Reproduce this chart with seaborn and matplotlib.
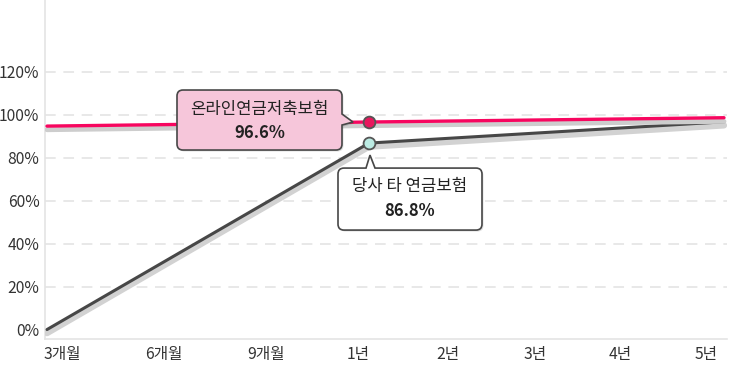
import numpy as np
import pandas as pd
import seaborn as sns
import matplotlib.pyplot as plt
import matplotlib.patheffects as pe
from matplotlib.path import Path
from matplotlib.patches import PathPatch
from matplotlib.transforms import IdentityTransform, Affine2D

# data
periods = ["3개월", "6개월", "9개월", "1년", "2년", "3년", "4년", "5년"]
point_periods = ["3개월", "1년", "5년"]
online_rate = [94.7, 96.6, 98.6]      # 온라인연금저축보험
other_rate = [0.0, 86.8, 96.7]        # 당사 타 연금보험
y_ticks = [0, 20, 40, 60, 80, 100, 120]

# layout (pixel positions along the x axis)
tick_px = [62, 164, 266, 358, 448, 535, 620, 706]
point_px = [47, 369, 724]

sns.set_theme(style="white")
plt.rcParams["font.family"] = ["Noto Sans CJK KR", "DejaVu Sans"]

W, H = 741, 371
fig = plt.figure(figsize=(W / 100, H / 100), dpi=100)
ax = fig.add_axes([45 / W, 32 / H, 682 / W, 339 / H])
ax.set_xlim(45, 727)
ax.set_ylim(-4.4, 153.4)

df = pd.DataFrame({"x": point_px, "online": online_rate, "other": other_rate})

for y in y_ticks[1:]:
    ax.axhline(y, color="#e2e2e2", lw=1.1, ls=(0, (7, 5)), zorder=0)

sns.lineplot(data=df, x="x", y="other", ax=ax, color="#474747", lw=2.2, zorder=3,
             path_effects=[pe.SimpleLineShadow(offset=(0, -2.6), shadow_color="#d2d2d2",
                                               alpha=1, linewidth=4.5), pe.Normal()])
sns.lineplot(data=df, x="x", y="online", ax=ax, color="#f7065f", lw=2.4, zorder=4,
             path_effects=[pe.SimpleLineShadow(offset=(0, -2.6), shadow_color="#cdcdcd",
                                               alpha=1, linewidth=3.5), pe.Normal()])

i1 = point_periods.index("1년")
ax.plot(point_px[i1], other_rate[i1], "o", ms=8.5, mfc="#bcebe3", mec="#555555", mew=1.3, zorder=6)
ax.plot(point_px[i1], online_rate[i1], "o", ms=8.5, mfc="#e8175d", mec="#555555", mew=1.3, zorder=6)

ax.set_xlabel("")
ax.set_ylabel("")
ax.set_xticks(tick_px)
ax.set_xticklabels(periods)
ax.set_yticks(y_ticks)
ax.set_yticklabels([f"{v}%" for v in y_ticks])
ax.tick_params(axis="both", length=0, labelsize=11.3, colors="#333333")
ax.tick_params(axis="x", pad=5)
ax.tick_params(axis="y", pad=4)
for s in ["top", "right"]:
    ax.spines[s].set_visible(False)
for s in ["left", "bottom"]:
    ax.spines[s].set_color("#e4e4e4")
    ax.spines[s].set_linewidth(1.2)
ax.grid(False)


def callout(mx, my, L, B, R, T, ptr, side, fc, r=6):
    L, B, R, T = mx + L, my + B, mx + R, my + T
    pts = [(px + mx, py + my) for px, py in ptr]
    verts = [(L + r, B), (R - r, B), (R, B), (R, B + r)]
    codes = [Path.MOVETO, Path.LINETO, Path.CURVE3, Path.CURVE3]
    if side == "right":
        verts += pts
        codes += [Path.LINETO] * len(pts)
    verts += [(R, T - r), (R, T), (R - r, T)]
    codes += [Path.LINETO, Path.CURVE3, Path.CURVE3]
    if side == "top":
        verts += pts
        codes += [Path.LINETO] * len(pts)
    verts += [(L + r, T), (L, T), (L, T - r), (L, B + r), (L, B), (L + r, B), (L + r, B)]
    codes += [Path.LINETO, Path.CURVE3, Path.CURVE3, Path.LINETO, Path.CURVE3, Path.CURVE3,
              Path.CLOSEPOLY]
    path = Path(verts, codes)
    sh = PathPatch(path.transformed(Affine2D().translate(1.5, -1.5)),
                   transform=IdentityTransform(), fc="#000000", ec="none", alpha=0.12, zorder=8)
    fig.add_artist(sh)
    fig.add_artist(PathPatch(path, transform=IdentityTransform(), fc=fc, ec="#474747",
                             lw=1.2, zorder=9))
    return (L + R) / 2


tr = IdentityTransform()

mx, my = ax.transData.transform((point_px[i1], online_rate[i1]))
cx = callout(mx, my, -192, -28, -27, 32, [(-27, -3), (-16, 0), (-27, 8)], "right", "#f6c6da")
fig.text(cx, my + 13, "온라인연금저축보험", transform=tr, ha="center", va="center",
         fontsize=12, color="#222222", zorder=10)
fig.text(cx, my - 11, f"{online_rate[i1]}%", transform=tr, ha="center", va="center",
         fontsize=12, fontweight="bold", color="#222222", zorder=10)

mx, my = ax.transData.transform((point_px[i1], other_rate[i1]))
cx = callout(mx, my, -31, -87, 113, -25, [(6, -25), (1, -12), (-3, -25)], "top", "#ffffff")
fig.text(cx, my - 43, "당사 타 연금보험", transform=tr, ha="center", va="center",
         fontsize=12, color="#222222", zorder=10)
fig.text(cx, my - 68, f"{other_rate[i1]}%", transform=tr, ha="center", va="center",
         fontsize=12, fontweight="bold", color="#222222", zorder=10)

fig.savefig("out.png", dpi=100)
